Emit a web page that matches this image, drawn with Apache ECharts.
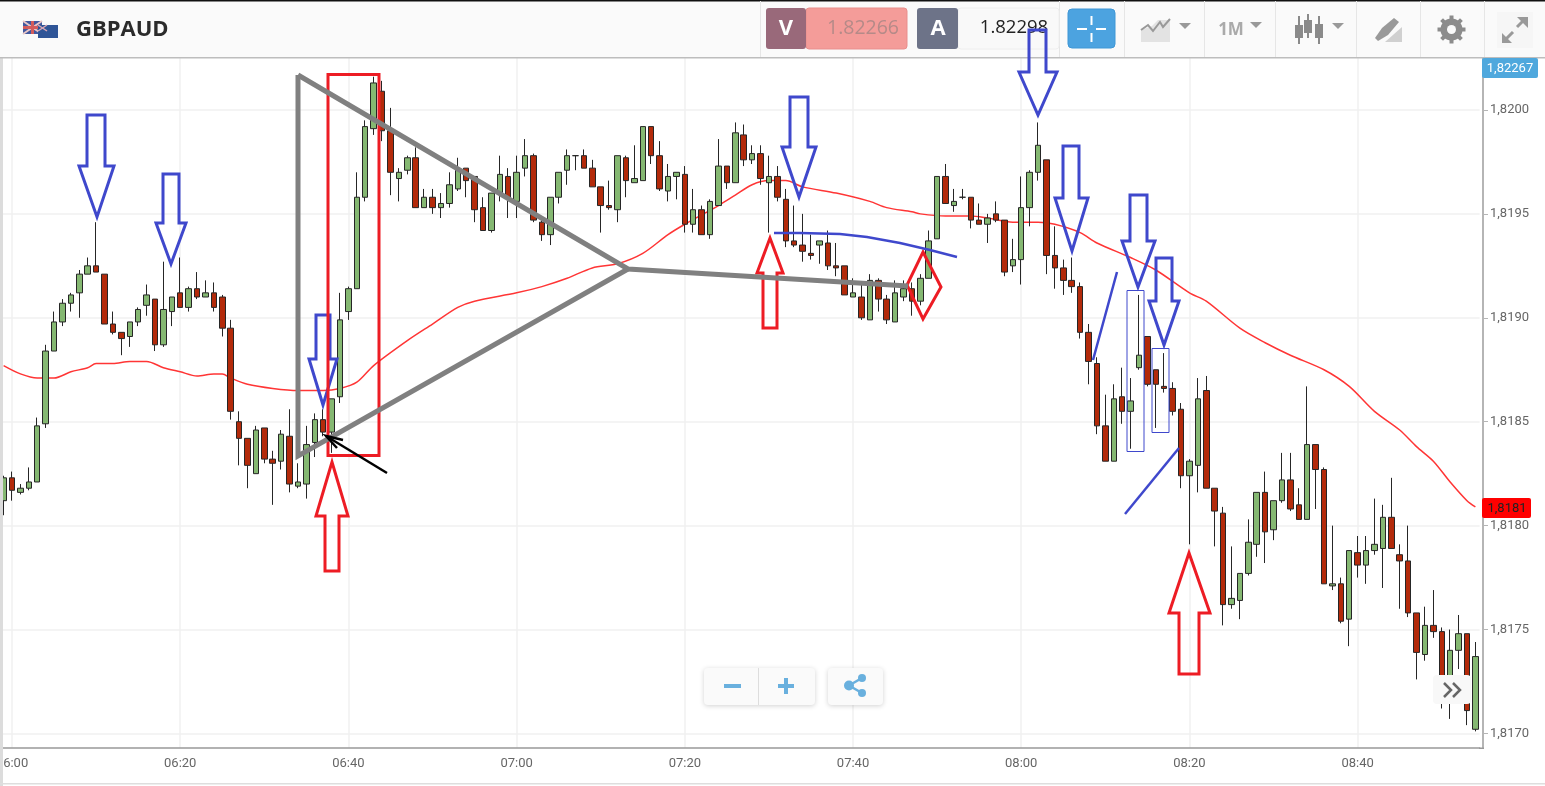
<!DOCTYPE html>
<html><head><meta charset="utf-8">
<style>html,body{margin:0;padding:0;background:#fff;overflow:hidden}#c{width:1545px;height:786px}</style>
<script src="https://cdn.jsdelivr.net/npm/echarts@6/dist/echarts.min.js"></script>
</head><body><div id="c"></div>
<script>
const xTickLabels=['06:00','06:20','06:40','07:00','07:20','07:40','08:00','08:20','08:40'];
const yTickValues=[1.817,1.8175,1.818,1.8185,1.819,1.8195,1.82];
const opens=[1.81812,1.81823,1.81816,1.81818,1.81821,1.81849,1.81884,1.81898,1.81907,1.81912,
1.81921,1.81925,1.81921,1.81897,1.81893,1.81891,1.81898,1.81906,1.81909,1.81887,
1.81903,1.81912,1.81905,1.81914,1.81910,1.81912,1.81910,1.81895,1.81850,1.81842,
1.81825,1.81847,1.81832,1.81831,1.81843,1.81819,1.81820,1.81840,1.81851,1.81845,
1.81862,1.81903,1.81914,1.81958,1.81991,1.82009,1.81990,1.81967,1.81971,1.81977,
1.81953,1.81958,1.81953,1.81955,1.81962,1.81972,1.81968,1.81953,1.81942,1.81960,
1.81968,1.81956,1.81972,1.81978,1.81946,1.81940,1.81958,1.81971,1.81978,1.81978,
1.81972,1.81963,1.81954,1.81952,1.81977,1.81965,1.81966,1.81992,1.81978,1.81961,
1.81968,1.81969,1.81945,1.81952,1.81940,1.81954,1.81973,1.81965,1.81988,1.81976,
1.81979,1.81965,1.81968,1.81957,1.81937,1.81935,1.81931,1.81935,1.81936,1.81925,
1.81925,1.81910,1.81910,1.81899,1.81918,1.81909,1.81898,1.81910,1.81914,1.81908,
1.81919,1.81938,1.81968,1.81954,1.81958,1.81958,1.81947,1.81945,1.81950,1.81947,
1.81925,1.81928,1.81953,1.81970,1.81976,1.81930,1.81924,1.81918,1.81915,1.81893,
1.81878,1.81848,1.81831,1.81862,1.81855,1.81876,1.81891,1.81875,1.81867,1.81866,
1.81856,1.81824,1.81829,1.81865,1.81818,1.81806,1.81762,1.81764,1.81777,1.81791,
1.81816,1.81798,1.81812,1.81822,1.81810,1.81803,1.81839,1.81827,1.81771,1.81772,
1.81755,1.81787,1.81781,1.81788,1.81789,1.81804,1.81786,1.81783,1.81758,1.81738,
1.81752,1.81749,1.81717,1.81740,1.81748,1.81702];
const closes=[1.81823,1.81817,1.81818,1.81821,1.81848,1.81884,1.81898,1.81907,1.81911,1.81921,
1.81925,1.81922,1.81897,1.81893,1.81890,1.81898,1.81904,1.81911,1.81887,1.81904,
1.81910,1.81905,1.81914,1.81910,1.81912,1.81905,1.81895,1.81855,1.81842,1.81829,
1.81846,1.81832,1.81830,1.81844,1.81820,1.81821,1.81839,1.81851,1.81845,1.81861,
1.81899,1.81914,1.81958,1.81992,1.82013,1.81990,1.81970,1.81970,1.81977,1.81953,
1.81958,1.81953,1.81955,1.81964,1.81971,1.81966,1.81952,1.81942,1.81960,1.81969,
1.81958,1.81970,1.81978,1.81947,1.81940,1.81958,1.81970,1.81978,1.81978,1.81972,
1.81963,1.81954,1.81953,1.81978,1.81966,1.81967,1.81992,1.81978,1.81962,1.81968,
1.81970,1.81945,1.81952,1.81940,1.81956,1.81973,1.81965,1.81989,1.81976,1.81979,
1.81967,1.81968,1.81958,1.81937,1.81935,1.81932,1.81930,1.81937,1.81925,1.81924,
1.81911,1.81912,1.81900,1.81918,1.81909,1.81899,1.81912,1.81914,1.81908,1.81919,
1.81937,1.81968,1.81955,1.81956,1.81958,1.81947,1.81945,1.81948,1.81947,1.81922,
1.81928,1.81953,1.81970,1.81983,1.81930,1.81924,1.81918,1.81915,1.81893,1.81879,
1.81848,1.81831,1.81861,1.81855,1.81860,1.81882,1.81868,1.81868,1.81866,1.81855,
1.81824,1.81831,1.81861,1.81818,1.81807,1.81762,1.81765,1.81777,1.81792,1.81816,
1.81797,1.81812,1.81822,1.81808,1.81803,1.81839,1.81827,1.81772,1.81772,1.81754,
1.81788,1.81781,1.81788,1.81791,1.81804,1.81789,1.81783,1.81758,1.81739,1.81752,
1.81749,1.81726,1.81740,1.81748,1.81711,1.81737];
const lows=[1.81805,1.81812,1.81815,1.81817,1.81821,1.81847,1.81884,1.81896,1.81903,1.81900,
1.81921,1.81922,1.81897,1.81892,1.81882,1.81886,1.81896,1.81901,1.81884,1.81886,
1.81896,1.81905,1.81903,1.81909,1.81910,1.81903,1.81891,1.81851,1.81829,1.81818,
1.81825,1.81830,1.81810,1.81827,1.81816,1.81818,1.81813,1.81833,1.81843,1.81835,
1.81859,1.81899,1.81914,1.81956,1.81988,1.81985,1.81959,1.81956,1.81969,1.81953,
1.81953,1.81950,1.81948,1.81953,1.81961,1.81958,1.81946,1.81942,1.81941,1.81956,
1.81948,1.81948,1.81968,1.81946,1.81937,1.81935,1.81955,1.81964,1.81971,1.81972,
1.81963,1.81941,1.81952,1.81946,1.81958,1.81965,1.81966,1.81974,1.81961,1.81956,
1.81957,1.81941,1.81941,1.81940,1.81938,1.81954,1.81962,1.81965,1.81973,1.81974,
1.81964,1.81941,1.81956,1.81934,1.81934,1.81927,1.81928,1.81926,1.81923,1.81920,
1.81911,1.81910,1.81899,1.81899,1.81903,1.81897,1.81898,1.81908,1.81901,1.81906,
1.81919,1.81938,1.81955,1.81951,1.81957,1.81943,1.81945,1.81936,1.81946,1.81920,
1.81922,1.81916,1.81944,1.81966,1.81921,1.81914,1.81911,1.81912,1.81890,1.81868,
1.81844,1.81831,1.81831,1.81849,1.81837,1.81875,1.81867,1.81847,1.81864,1.81853,
1.81818,1.81791,1.81816,1.81818,1.81790,1.81752,1.81760,1.81755,1.81776,1.81785,
1.81782,1.81793,1.81811,1.81807,1.81803,1.81803,1.81808,1.81772,1.81769,1.81753,
1.81742,1.81775,1.81772,1.81786,1.81770,1.81789,1.81760,1.81756,1.81726,1.81735,
1.81746,1.81712,1.81707,1.81731,1.81704,1.81701];
const highs=[1.81824,1.81826,1.81820,1.81828,1.81852,1.81887,1.81903,1.81909,1.81912,1.81923,
1.81929,1.81946,1.81921,1.81903,1.81893,1.81898,1.81905,1.81916,1.81909,1.81927,
1.81910,1.81929,1.81915,1.81922,1.81918,1.81917,1.81911,1.81899,1.81855,1.81842,
1.81848,1.81847,1.81836,1.81846,1.81856,1.81830,1.81848,1.81854,1.81856,1.81861,
1.81912,1.81915,1.81970,1.81995,1.82016,1.82014,1.82001,1.81972,1.81978,1.81982,
1.81962,1.81962,1.81960,1.81970,1.81977,1.81972,1.81968,1.81958,1.81960,1.81978,
1.81972,1.81978,1.81986,1.81979,1.81948,1.81958,1.81970,1.81981,1.81978,1.81981,
1.81976,1.81963,1.81966,1.81978,1.81978,1.81983,1.81992,1.81992,1.81985,1.81974,
1.81970,1.81973,1.81962,1.81954,1.81957,1.81986,1.81973,1.81994,1.81993,1.81983,
1.81983,1.81978,1.81973,1.81962,1.81954,1.81950,1.81940,1.81937,1.81942,1.81936,
1.81925,1.81919,1.81916,1.81921,1.81919,1.81911,1.81918,1.81918,1.81917,1.81921,
1.81942,1.81968,1.81974,1.81962,1.81962,1.81958,1.81955,1.81950,1.81956,1.81947,
1.81938,1.81968,1.81971,1.81994,1.81976,1.81944,1.81928,1.81929,1.81917,1.81897,
1.81881,1.81863,1.81868,1.81876,1.81871,1.81911,1.81891,1.81875,1.81883,1.81869,
1.81859,1.81832,1.81871,1.81872,1.81818,1.81809,1.81790,1.81777,1.81803,1.81816,
1.81826,1.81812,1.81835,1.81835,1.81818,1.81867,1.81839,1.81828,1.81800,1.81775,
1.81788,1.81795,1.81795,1.81813,1.81810,1.81823,1.81791,1.81800,1.81758,1.81761,
1.81769,1.81751,1.81750,1.81757,1.81748,1.81744];
const maIndex=[0,2,4,6,8,10,11,13,15,17,19,21,23,25,26,27,29,32,35,36,38,40,42,44,48,51,54,56,61,64,67,70,73,76,79,81,85,87,89,91,93,95,99,103,105,108,109,112,115,117,120,123,125,128,130,134,137,141,143,147,150,153,157,160,163,166,168,170,172,174,175];
const maValues=[1.81877,1.81873,1.81871,1.81871,1.81874,1.81876,1.81878,1.81878,1.81879,1.81879,1.81876,1.81874,1.81872,1.81873,1.81873,1.81871,1.81868,1.81866,1.81865,1.81865,1.81865,1.81866,1.81869,1.81877,1.81889,1.81897,1.81905,1.81908,1.81912,1.81915,1.81919,1.81924,1.81926,1.81931,1.81940,1.81945,1.81954,1.81959,1.81964,1.81966,1.81966,1.81963,1.81960,1.81956,1.81953,1.81951,1.81950,1.81949,1.81949,1.81948,1.81946,1.81946,1.81945,1.81941,1.81936,1.81929,1.81923,1.81912,1.81908,1.81895,1.81888,1.81882,1.81875,1.81867,1.81855,1.81846,1.81838,1.81831,1.81821,1.81812,1.81809];

const times=[];
for(let i=0;i<opens.length;i++){const m=359+i;times.push(String(Math.floor(m/60)).padStart(2,'0')+':'+String(m%60).padStart(2,'0'));}

// ---- page chrome and hand-drawn annotations ----
const Z=100, BLUE='#3f48cc', RED='#ed1c24', GREY='#808080';
const g=[];
const rect=(x,y,w,h,fill,stroke,r,z,sh)=>g.push({type:'rect',z:z||Z,shape:{x,y,width:w,height:h,r:r||0},style:{fill:fill||'transparent',stroke:stroke||null,lineWidth:1,shadowBlur:sh||0,shadowColor:'rgba(0,0,0,.18)',shadowOffsetY:sh?1:0}});
const poly=(pts,color,lw,closed,fill,z)=>g.push({type:closed?'polygon':'polyline',z:z||Z+5,shape:{points:pts},style:{stroke:color,lineWidth:lw,fill:fill||'transparent',lineJoin:'miter'}});
const text=(x,y,t,font,fill,align)=>g.push({type:'text',z:Z+2,style:{x,y,text:t,font,fill,textAlign:align||'center',textVerticalAlign:'middle'}});
const caret=(x,y)=>poly([[x-6,y-3],[x+6,y-3],[x,y+3]],'#999',0,true,'#999',Z+2);

// header
rect(0,0,1545,57,'#fafafa');
rect(0,0,1545,1.5,'#111');
rect(0,57,1545,1.5,'#bdbdbd');
[760,1059,1124,1204,1275,1356,1420,1484].forEach(x=>rect(x,1,1,56,'#e6e6e6'));
// flags
rect(23,21,19,13,'#41589f',null,0,Z+1);
poly([[23,21],[42,34]],'#e9c6c6',2,false,null,Z+1);poly([[42,21],[23,34]],'#e9c6c6',2,false,null,Z+1);
poly([[32.5,21],[32.5,34]],'#d25b5b',3,false,null,Z+1);poly([[23,27.5],[42,27.5]],'#d25b5b',3,false,null,Z+1);
rect(38,25,20,13,'#2f5597',null,0,Z+2);
poly([[38,25],[47,31]],'#d9a7b5',1.5,false,null,Z+2);poly([[47,25],[38,31]],'#d9a7b5',1.5,false,null,Z+2);
text(76,30,'GBPAUD','bold 22px "Open Sans"','#2b2b2b','left');
// bid / ask
rect(806,8,101,41,'#f49c99','#e88f8d',3);
rect(766,8,40,41,'#99697a',null,3);
text(786,29,'V','bold 22px "Open Sans"','#fff');
text(863,28,'1.82266','19.5px "Open Sans"','#b58a88');
rect(958,8,101,41,'#f9f9f9','#eee',3);
rect(917,8,41,41,'#6d7388',null,3);
text(938,29,'A','bold 22px "Open Sans"','#fff');
text(1014,28,'1.82298','18.5px "Open Sans"','#222');
// toolbar
rect(1068,9,47,39,'#4ca3e0','#3f97d6',4);
poly([[1091.5,16],[1091.5,25]],'#fff',2,false,null,Z+2);poly([[1091.5,33],[1091.5,42]],'#fff',2,false,null,Z+2);
poly([[1077,29],[1087,29]],'#fff',2,false,null,Z+2);poly([[1096,29],[1106,29]],'#fff',2,false,null,Z+2);
poly([[1141,42],[1141,30],[1152,26],[1158,20],[1170,20],[1170,42]],'#e3e3e3',0,true,'#e3e3e3',Z+1);
poly([[1141,30],[1148,25],[1153,31],[1160,22],[1163,27],[1170,19]],'#999',2,false,null,Z+2);
caret(1185,26);
text(1231,30,'1M','bold 17px "Open Sans"','#aaa');
caret(1256,25);
[[1299,16,44,25,38],[1308,14,38,20,33],[1319,16,44,24,38]].forEach(a=>{poly([[a[0],a[1]],[a[0],a[2]]],'#8a8a8a',2,false,null,Z+2);rect(a[0]-4,a[3],8,a[4]-a[3],'#8a8a8a',null,0,Z+2);});
caret(1338,26);
poly([[1375,38],[1382,28],[1394,18],[1399,22],[1388,35],[1378,41]],'#999',0,true,'#999',Z+2);
poly([[1385,42],[1402,27],[1402,42]],'#d0d0d0',0,true,'#d0d0d0',Z+2);
g.push({type:'circle',z:Z+2,shape:{cx:1451.5,cy:29.5,r:8},style:{stroke:'#8c8c8c',lineWidth:6,fill:'transparent'}});
[0,45,90,135].forEach(d=>{const a=d*Math.PI/180,c=Math.cos(a)*14,s=Math.sin(a)*14;poly([[1451.5-c,29.5-s],[1451.5+c,29.5+s]],'#8c8c8c',4,false,null,Z+1);});
g.push({type:'circle',z:Z+3,shape:{cx:1451.5,cy:29.5,r:4.5},style:{fill:'#fafafa'}});
rect(1497,12,36,36,'#f6f6f6');
poly([[1504,41],[1513,32]],'#999',3,false,null,Z+2);poly([[1517,27],[1525,19]],'#999',3,false,null,Z+2);
poly([[1502,33],[1502,43],[1512,43]],'#999',0,true,'#999',Z+2);poly([[1517,17],[1528,17],[1528,28]],'#999',0,true,'#999',Z+2);
// edge and footer
rect(0,58,3,728,'#dcdcdc',null,0,Z-1);
rect(0,783,1545,1.5,'#dedede',null,0,Z-1);
rect(1479,747.5,5,1.5,'#999',null,0,Z-1);
// price badges
rect(1482,58,56,20,'#4fa8dd',null,2);
text(1510,68.5,'1,82267','13px Roboto','#fff');
rect(1482,498,49,20,'#ff0000',null,2);
text(1507,508.5,'1,8181','13px Roboto','#222');
// zoom buttons
rect(704,668,111,37,'#fafafa',null,4,Z-1,5);
rect(758,668,1,37,'#ddd',null,0,Z);
poly([[724,686],[741,686]],'#69b0de',4,false,null,Z+1);
poly([[778,686],[794,686]],'#69b0de',4,false,null,Z+1);poly([[786,678],[786,694]],'#69b0de',4,false,null,Z+1);
rect(828,668,55,37,'#fafafa',null,4,Z-1,5);
poly([[862,678],[849,685.5],[862,693]],'#69b0de',2.5,false,null,Z+1);
[[862,678,4],[849,685.5,5],[862,693,4]].forEach(c=>g.push({type:'circle',z:Z+1,shape:{cx:c[0],cy:c[1],r:c[2]},style:{fill:'#69b0de'}}));

// annotations: arrows [shaftL, shaftR, tail, neck, headL, headR, tipX, tip]
const arrow=(a,c)=>poly([[a[0],a[2]],[a[1],a[2]],[a[1],a[3]],[a[5],a[3]],[a[6],a[7]],[a[4],a[3]],[a[0],a[3]]],c,3,true);
[[87,105,115,166,79,114,97,217],[163,179,174,223,156,186,171,264],[316,330,315,359,309,337,323,405],
 [790,808,97,147,782,816,799,197],[1029,1046,30,72,1019,1057,1038,115],[1063,1079,146,198,1055,1088,1072,251],
 [1130,1147,195,241,1122,1155,1138,287],[1156,1172,258,301,1149,1179,1164,345]].forEach(a=>arrow(a,BLUE));
[[325,339,571,516,316,348,332,462],[763,777,328,273,757,783,770,238],[1179,1199,674,613,1169,1210,1189,553]].forEach(a=>arrow(a,RED));
poly([[923,252],[941,287],[923,319],[907,285]],RED,3,true);
g.push({type:'rect',z:Z+5,shape:{x:328,y:74.5,width:51,height:381},style:{stroke:RED,lineWidth:3,fill:'transparent'}});
poly([[298,75],[298,456],[628,269]],GREY,5,false);
poly([[298,75],[628,269],[908,286]],GREY,5,false);
poly([[774,233],[800,233],[840,234],[867,237],[900,243],[930,250],[957,257]],BLUE,2.5);
poly([[1093,360],[1117,272]],BLUE,2.5);
poly([[1125,514],[1179,448]],BLUE,2.5);
g.push({type:'rect',z:Z+5,shape:{x:1127,y:290.5,width:17,height:161},style:{stroke:BLUE,lineWidth:1,fill:'transparent'}});
g.push({type:'rect',z:Z+5,shape:{x:1152,y:348.5,width:17,height:84},style:{stroke:BLUE,lineWidth:1,fill:'transparent'}});
poly([[387,473],[326,436]],'#000',2.5);
poly([[343,440],[326,436],[337,448]],'#000',2.5);
// "more" button
rect(1433,675,38,29,'#f8f8f8',null,4,Z+6);
poly([[1444,683],[1451,690],[1444,697]],'#666',2.5,false,null,Z+7);
poly([[1453,683],[1460,690],[1453,697]],'#666',2.5,false,null,Z+7);

const chart=echarts.init(document.getElementById('c'),null,{renderer:'canvas'});
chart.setOption({
  animation:false,backgroundColor:'#fff',
  grid:{left:-0.6,width:1480.2,top:58,height:690,containLabel:false,outerBoundsMode:'none'},
  xAxis:{type:'category',data:times,boundaryGap:true,
    axisLine:{onZero:false,lineStyle:{color:'#999',width:1.5}},
    axisTick:{alignWithLabel:true,length:6,lineStyle:{color:'#888'},interval:(i,v)=>xTickLabels.includes(v)},
    axisLabel:{interval:(i,v)=>xTickLabels.includes(v),color:'#666',fontFamily:'Roboto',fontSize:13,margin:9},
    splitLine:{show:true,alignWithLabel:true,interval:(i,v)=>xTickLabels.includes(v),lineStyle:{color:'#f0f0f0',width:1.5}}},
  yAxis:{type:'value',position:'right',offset:3.4,min:1.81693,max:1.82025,scale:true,
    axisLine:{show:true,lineStyle:{color:'#b5b5b5',width:2}},
    axisTick:{show:true,length:5,lineStyle:{color:'#b5b5b5'},customValues:yTickValues},
    axisLabel:{color:'#666',fontFamily:'Roboto',fontSize:13,margin:7,customValues:yTickValues,formatter:v=>v.toFixed(4).replace('.',',')},
    splitLine:{show:true,lineStyle:{color:'#f0f0f0',width:1.5}}},
  series:[
   {type:'line',data:maIndex.map((k,i)=>[k,maValues[i]]),symbol:'none',z:1,smooth:0.3,lineStyle:{color:'#ff3535',width:1.5},silent:true},
   {type:'candlestick',z:3,barWidth:6,data:opens.map((o,i)=>[o,closes[i],lows[i],highs[i]]),
    itemStyle:{color:'#85b872',color0:'#b32a0a',borderColor:'#262626',borderColor0:'#262626',borderColorDoji:'#262626',borderWidth:1}}
  ],
  graphic:{elements:g}
});
</script></body></html>
